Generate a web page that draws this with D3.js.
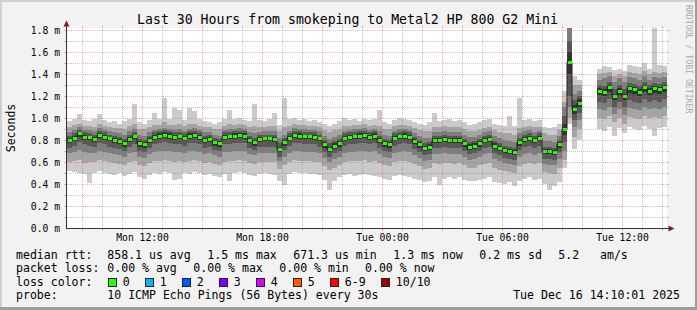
<!DOCTYPE html>
<html><head><meta charset="utf-8">
<script src="https://cdn.jsdelivr.net/npm/d3@7"></script>
<style>
body{margin:0;background:#f2f2f2}
svg{display:block}
text{font-family:"DejaVu Sans Mono",monospace;fill:#000}
</style>
</head><body><svg id="c" width="697" height="310"></svg>
<script>
// ---------- data (ms), one value per 15-minute step, null = no data ----------
const med = [0.80,0.82,0.86,0.83,0.83,0.81,0.845,0.83,0.815,0.80, 0.79,0.77,0.81,0.835,0.77,0.76,0.80,0.83,0.84,0.85, 0.84,0.83,0.835,0.82,0.84,0.845,0.83,0.80,0.81,0.78, 0.77,0.83,0.835,0.84,0.845,0.84,0.80,0.78,0.81,0.815, 0.815,0.81,0.72,0.78,0.82,0.845,0.84,0.835,0.835,0.83, 0.815,0.76,0.72,0.75,0.77,0.82,0.83,0.835,0.84,0.845, 0.83,0.84,0.80,0.77,0.76,0.82,0.835,0.84,0.83,0.79, 0.76,0.73,0.74,0.80,0.80,0.81,0.80,0.80,0.80,0.77, 0.74,0.75,0.77,0.80,0.81,0.75,0.73,0.71,0.70,0.69, 0.78,0.81,0.82,0.80,0.82,0.70,0.70,0.69,0.76,
  0.90,1.51,1.08,1.14, null,null,null,
  1.25,1.24,1.28,1.20,1.25,1.20,1.27,1.26,1.24,1.28,1.25,1.27,1.26,1.28];
const p1 = [0.52,0.51,0.50,0.49,0.41,0.50,0.52,0.50,0.49,0.48, 0.50,0.47,0.49,0.51,0.46,0.45,0.48,0.50,0.49,0.51, 0.50,0.44,0.45,0.50,0.49,0.51,0.50,0.48,0.49,0.47, 0.46,0.49,0.43,0.50,0.51,0.50,0.48,0.47,0.49,0.50, 0.49,0.48,0.43,0.39,0.49,0.51,0.50,0.50,0.49,0.49, 0.48,0.44,0.35,0.43,0.46,0.48,0.49,0.47,0.48,0.49, 0.48,0.47,0.46,0.45,0.44,0.47,0.48,0.47,0.46,0.45, 0.44,0.42,0.43,0.46,0.39,0.45,0.46,0.45,0.46,0.44, 0.43,0.43,0.44,0.45,0.46,0.42,0.41,0.40,0.42,0.38, 0.43,0.45,0.46,0.44,0.45,0.40,0.35,0.38,0.42,
  0.55,0.95,0.72,0.80, null,null,null,
  0.90,0.88,0.92,0.84,0.91,0.86,0.92,0.90,0.89,0.93,0.90,0.84,0.91,0.92];
const p2 = [0.60,0.61,0.62,0.59,0.60,0.60,0.62,0.61,0.60,0.59, 0.58,0.57,0.60,0.61,0.57,0.56,0.59,0.61,0.61,0.62, 0.61,0.60,0.61,0.60,0.61,0.62,0.61,0.59,0.60,0.58, 0.57,0.60,0.61,0.61,0.62,0.61,0.59,0.58,0.60,0.60, 0.60,0.60,0.54,0.57,0.60,0.62,0.61,0.61,0.61,0.60, 0.60,0.56,0.53,0.55,0.57,0.60,0.61,0.61,0.61,0.62, 0.60,0.61,0.59,0.57,0.56,0.60,0.61,0.61,0.60,0.58, 0.56,0.54,0.55,0.59,0.58,0.59,0.59,0.58,0.59,0.57, 0.55,0.55,0.57,0.58,0.59,0.55,0.53,0.52,0.51,0.50, 0.56,0.58,0.59,0.58,0.59,0.51,0.50,0.49,0.55,
  0.62,1.00,0.83,0.90, null,null,null,
  1.00,0.99,1.02,0.96,1.00,0.95,1.01,1.00,0.99,1.02,1.00,1.01,1.00,1.02];
const p3 = [0.68,0.69,0.71,0.69,0.68,0.68,0.70,0.69,0.68,0.67, 0.66,0.65,0.68,0.69,0.65,0.64,0.67,0.69,0.70,0.70, 0.70,0.69,0.69,0.68,0.70,0.70,0.69,0.67,0.68,0.66, 0.65,0.69,0.69,0.70,0.70,0.70,0.67,0.66,0.68,0.68, 0.68,0.68,0.61,0.65,0.68,0.70,0.70,0.69,0.69,0.69, 0.68,0.64,0.60,0.63,0.65,0.68,0.69,0.69,0.70,0.70, 0.69,0.70,0.67,0.65,0.64,0.68,0.69,0.70,0.69,0.66, 0.64,0.61,0.62,0.67,0.67,0.68,0.67,0.67,0.67,0.65, 0.62,0.63,0.65,0.67,0.68,0.63,0.61,0.59,0.58,0.57, 0.65,0.67,0.68,0.66,0.68,0.58,0.57,0.57,0.63,
  0.70,1.10,0.92,0.98, null,null,null,
  1.08,1.07,1.10,1.04,1.08,1.03,1.09,1.08,1.07,1.10,1.08,1.09,1.08,1.10];
const p4 = [0.73,0.75,0.78,0.76,0.75,0.74,0.77,0.76,0.74,0.73, 0.72,0.70,0.74,0.76,0.70,0.69,0.73,0.76,0.77,0.78, 0.77,0.76,0.76,0.75,0.77,0.77,0.76,0.73,0.74,0.71, 0.70,0.76,0.76,0.77,0.77,0.77,0.73,0.71,0.74,0.74, 0.74,0.74,0.65,0.71,0.75,0.77,0.77,0.76,0.76,0.76, 0.74,0.69,0.65,0.68,0.70,0.75,0.76,0.76,0.77,0.77, 0.76,0.77,0.73,0.70,0.69,0.75,0.76,0.77,0.76,0.72, 0.69,0.66,0.67,0.73,0.73,0.74,0.73,0.73,0.73,0.70, 0.67,0.68,0.70,0.73,0.74,0.68,0.66,0.64,0.63,0.62, 0.71,0.74,0.75,0.73,0.75,0.63,0.63,0.62,0.69,
  0.78,1.20,0.98,1.05, null,null,null,
  1.15,1.14,1.17,1.10,1.15,1.10,1.16,1.15,1.14,1.17,1.15,1.16,1.15,1.17];
const p5 = [0.77,0.79,0.83,0.80,0.80,0.78,0.82,0.80,0.79,0.77, 0.76,0.74,0.78,0.81,0.74,0.73,0.77,0.80,0.81,0.82, 0.81,0.80,0.81,0.79,0.81,0.82,0.80,0.77,0.78,0.75, 0.74,0.80,0.81,0.81,0.82,0.81,0.77,0.75,0.78,0.79, 0.79,0.78,0.69,0.75,0.79,0.82,0.81,0.81,0.81,0.80, 0.79,0.73,0.69,0.72,0.74,0.79,0.80,0.81,0.81,0.82, 0.80,0.81,0.77,0.74,0.73,0.79,0.81,0.81,0.80,0.76, 0.73,0.70,0.71,0.77,0.77,0.78,0.77,0.77,0.77,0.74, 0.71,0.72,0.74,0.77,0.78,0.72,0.70,0.68,0.67,0.66, 0.75,0.78,0.79,0.77,0.79,0.67,0.67,0.66,0.73,
  0.85,1.40,1.04,1.10, null,null,null,
  1.21,1.20,1.24,1.16,1.21,1.16,1.23,1.22,1.20,1.24,1.21,1.23,1.22,1.24];
const p6 = [0.82,0.84,0.87,0.85,0.84,0.83,0.86,0.85,0.83,0.82, 0.81,0.79,0.83,0.85,0.79,0.78,0.82,0.85,0.86,0.87, 0.86,0.85,0.85,0.84,0.86,0.86,0.85,0.82,0.83,0.80, 0.79,0.85,0.85,0.86,0.86,0.86,0.82,0.80,0.83,0.83, 0.83,0.83,0.74,0.80,0.84,0.86,0.86,0.85,0.85,0.85, 0.83,0.78,0.74,0.77,0.79,0.84,0.85,0.85,0.86,0.86, 0.85,0.86,0.82,0.79,0.78,0.84,0.85,0.86,0.85,0.81, 0.78,0.75,0.76,0.82,0.82,0.83,0.82,0.82,0.82,0.79, 0.76,0.77,0.79,0.82,0.83,0.77,0.75,0.73,0.72,0.71, 0.80,0.83,0.84,0.82,0.84,0.72,0.72,0.71,0.78,
  0.95,1.60,1.12,1.17, null,null,null,
  1.27,1.26,1.30,1.22,1.27,1.22,1.29,1.28,1.26,1.30,1.27,1.29,1.28,1.30];
const p7 = [0.84,0.86,0.89,0.87,0.86,0.85,0.88,0.87,0.85,0.84, 0.83,0.81,0.85,0.87,0.81,0.80,0.84,0.87,0.88,0.89, 0.88,0.87,0.87,0.86,0.88,0.88,0.87,0.84,0.85,0.82, 0.81,0.87,0.87,0.88,0.88,0.88,0.84,0.82,0.85,0.85, 0.85,0.85,0.77,0.82,0.86,0.88,0.88,0.87,0.87,0.87, 0.85,0.80,0.77,0.79,0.81,0.86,0.87,0.87,0.88,0.88, 0.87,0.88,0.84,0.81,0.80,0.86,0.87,0.88,0.87,0.83, 0.80,0.77,0.78,0.84,0.84,0.85,0.84,0.84,0.84,0.81, 0.78,0.79,0.81,0.84,0.85,0.79,0.77,0.75,0.74,0.73, 0.82,0.85,0.86,0.84,0.86,0.74,0.74,0.73,0.80,
  1.02,1.70,1.16,1.20, null,null,null,
  1.30,1.29,1.33,1.26,1.30,1.26,1.32,1.31,1.29,1.33,1.30,1.32,1.31,1.33];
const p8 = [0.87,0.89,0.92,0.89,0.89,0.88,0.91,0.89,0.88,0.87, 0.86,0.85,0.88,0.90,0.85,0.84,0.87,0.89,0.90,0.91, 0.90,0.89,0.90,0.88,0.90,0.91,0.89,0.87,0.87,0.85, 0.84,0.89,0.90,0.90,0.91,0.90,0.87,0.86,0.87,0.88, 0.88,0.88,0.82,0.85,0.88,0.91,0.90,0.90,0.89,0.89, 0.88,0.84,0.81,0.83,0.85,0.88,0.89,0.90,0.90,0.91, 0.89,0.90,0.88,0.85,0.84,0.88,0.90,0.90,0.89,0.86, 0.84,0.82,0.82,0.87,0.87,0.88,0.87,0.87,0.87,0.85, 0.83,0.83,0.85,0.87,0.88,0.84,0.82,0.80,0.79,0.78, 0.86,0.88,0.89,0.87,0.88,0.79,0.79,0.78,0.84,
  1.10,1.85,1.22,1.25, null,null,null,
  1.35,1.36,1.38,1.33,1.36,1.33,1.37,1.36,1.35,1.38,1.35,1.37,1.36,1.37];
const p9 = [0.92,0.94,0.95,0.93,0.93,0.92,0.95,0.93,0.92,0.91, 0.91,0.90,0.93,0.95,0.90,0.90,0.92,0.94,0.94,0.96, 0.94,0.94,0.95,0.93,0.95,0.95,0.93,0.92,0.92,0.90, 0.90,0.93,0.95,0.94,0.95,0.94,0.92,0.93,0.92,0.92, 0.93,0.93,0.88,0.92,0.93,0.95,0.94,0.94,0.93,0.93, 0.92,0.89,0.87,0.89,0.90,0.93,0.93,0.94,0.94,0.95, 0.93,0.94,0.93,0.90,0.90,0.93,0.94,0.94,0.93,0.91, 0.89,0.88,0.88,0.92,0.92,0.93,0.92,0.92,0.92,0.90, 0.88,0.88,0.89,0.91,0.92,0.89,0.87,0.86,0.86,0.85, 0.91,0.92,0.93,0.92,0.92,0.86,0.85,0.85,0.89,
  1.15,1.95,1.30,1.30, null,null,null,
  1.40,1.41,1.42,1.38,1.40,1.38,1.42,1.41,1.40,1.43,1.40,1.42,1.41,1.42];
const p10 = [0.97,0.99,1.04,0.98,0.97,0.99,1.04,0.98,0.96,0.97, 0.95,0.97,0.99,1.13,0.96,0.95,0.98,1.05,0.99,1.18, 0.99,1.09,1.07,0.98,1.09,1.06,0.99,0.97,0.96,0.95, 0.96,0.99,1.07,0.99,1.00,0.98,0.97,1.13,0.98,0.97, 0.99,1.05,0.94,1.18,0.99,1.00,0.98,0.99,0.97,0.98, 0.96,0.95,0.93,0.95,0.97,1.00,0.98,0.99,0.97,0.99, 0.98,0.99,1.07,0.96,0.95,0.98,1.00,0.99,0.98,0.96, 0.95,0.94,0.96,1.05,0.97,0.98,0.99,0.97,0.98,0.96, 0.94,0.95,0.96,0.98,0.99,0.95,0.94,0.93,1.02,0.93, 1.18,0.98,0.99,0.97,0.98,0.92,0.91,0.92,0.95,
  1.25,2.20,1.38,1.35, null,null,null,
  1.45,1.47,1.46,1.44,1.45,1.43,1.48,1.47,1.46,1.50,1.45,1.85,1.48,1.47];

const yTicks = [0,0.2,0.4,0.6,0.8,1.0,1.2,1.4,1.6,1.8];
const lossLabels = ["0","1","2","3","4","5","6-9","10/10"];
const lossColors = ["#26ff00","#00b8ff","#0059ff","#7e00ff","#dd00ff","#ff5e00","#ff0000","#a10000"];
const titleText = "Last 30 Hours from smokeping to Metal2 HP 800 G2 Mini";
const statRow1 = ["median rtt:","858.1 us avg","1.5 ms max","671.3 us min","1.3 ms now","0.2 ms sd","5.2","am/s"];
const statRow2 = ["packet loss:","0.00 % avg","0.00 % max","0.00 % min","0.00 % now"];
const probeText = ["probe:","10 ICMP Echo Pings (56 Bytes) every 30s","Tue Dec 16 14:10:01 2025"];

// ---------- layout ----------
const W=697,H=310, X0=67, X1=667, Y0=228, YT=28;
const svg=d3.select("#c");
const t0=new Date(Date.UTC(2025,11,15,8,15));
const t1=new Date(Date.UTC(2025,11,16,14,15));
const STEP=15*60*1000;
const x=d3.scaleUtc().domain([t0,t1]).range([X0,X1]);
const y=d3.scaleLinear().domain([0,1.8]).range([Y0,30]);
const times=med.map((_,i)=>new Date(+t0+i*STEP));
const tEnd=i=>new Date(+t0+(i+1)*STEP);

// background + frame
svg.append("rect").attr("width",W).attr("height",H).attr("fill","#f2f2f2");
svg.append("rect").attr("x",0).attr("y",0).attr("width",W).attr("height",2).attr("fill","#cfcfcf");
svg.append("rect").attr("x",0).attr("y",0).attr("width",2).attr("height",H).attr("fill","#cfcfcf");
svg.append("rect").attr("x",0).attr("y",H-3).attr("width",W).attr("height",3).attr("fill","#9e9e9e");
svg.append("rect").attr("x",W-2).attr("y",0).attr("width",2).attr("height",H).attr("fill","#9e9e9e");

// canvas
svg.append("rect").attr("x",X0).attr("y",YT).attr("width",X1-X0).attr("height",Y0-YT).attr("fill","#fff");
svg.append("clipPath").attr("id","pc").append("rect").attr("x",X0).attr("y",YT).attr("width",X1-X0).attr("height",Y0-YT);

const plot=svg.append("g").attr("clip-path","url(#pc)");
const P=[p1,p2,p3,p4,p5,p6,p7,p8,p9,p10];
const smokeCols=["#cacaca","#a4a4a4","#7e7e7e","#585858","#323232"];
const idx=d3.range(med.length).filter(i=>med[i]!=null);
smokeCols.forEach((c,k)=>{
  const lo=P[k], hi=P[9-k];
  plot.append("g").selectAll("rect").data(idx).join("rect")
    .attr("x",i=>x(times[i])).attr("width",i=>x(tEnd(i))-x(times[i]))
    .attr("y",i=>y(hi[i])).attr("height",i=>y(lo[i])-y(hi[i]))
    .attr("fill",c).attr("shape-rendering","crispEdges");
});
// median dark step line
const pts=[];
med.forEach((v,i)=>{pts.push({t:times[i],v});pts.push({t:tEnd(i),v});});
plot.append("path").datum(pts)
  .attr("d",d3.line().defined(d=>d.v!=null).x(d=>x(d.t)).y(d=>Math.round(y(d.v))+0.5))
  .attr("fill","none").attr("stroke","#202020").attr("stroke-width",1);
// loss-coloured median
plot.append("g").selectAll("rect").data(idx).join("rect")
  .attr("x",i=>x(times[i])+0.5).attr("width",i=>x(tEnd(i))-x(times[i])-1)
  .attr("y",i=>Math.round(y(med[i]))-1).attr("height",3)
  .attr("fill",lossColors[0]).attr("shape-rendering","crispEdges");

// grid (drawn over data like rrdtool)
const grid=svg.append("g");
const MAJ="rgba(255,60,60,0.42)", MIN="rgba(120,120,120,0.42)";
d3.range(1,19).forEach(k=>{
  const v=k/10, yy=Math.round(y(v))+0.5, major=(k%2===0);
  const col=major?MAJ:MIN;
  grid.append("line").attr("x1",X0).attr("x2",X1).attr("y1",yy).attr("y2",yy)
    .attr("stroke",col).attr("stroke-dasharray","1,1");
  grid.append("line").attr("x1",X0-3).attr("x2",X0).attr("y1",yy).attr("y2",yy).attr("stroke",col);
  grid.append("line").attr("x1",X1).attr("x2",X1+2).attr("y1",yy).attr("y2",yy).attr("stroke",col);
});
d3.utcHour.range(t0,t1).forEach(h=>{
  const xx=Math.round(x(h))+0.5, major=(h.getUTCHours()%3===0);
  const col=major?MAJ:MIN;
  grid.append("line").attr("x1",xx).attr("x2",xx).attr("y1",YT).attr("y2",Y0)
    .attr("stroke",col).attr("stroke-dasharray","1,1");
  grid.append("line").attr("x1",xx).attr("x2",xx).attr("y1",Y0).attr("y2",Y0+3).attr("stroke",col);
  grid.append("line").attr("x1",xx).attr("x2",xx).attr("y1",YT-2).attr("y2",YT).attr("stroke",col);
});

// axes
const AX="#333";
svg.append("line").attr("x1",X0-0.5).attr("x2",X0-0.5).attr("y1",Y0+1).attr("y2",24).attr("stroke",AX);
svg.append("line").attr("x1",X0-1).attr("x2",669).attr("y1",Y0+0.5).attr("y2",Y0+0.5).attr("stroke",AX);
svg.append("path").attr("d",`M${X0-3.5},26.5L${X0-0.5},20.5L${X0+2.5},26.5Z`).attr("fill","#8b1a1a");
svg.append("path").attr("d",`M668.5,225.5L674.5,228.5L668.5,231.5Z`).attr("fill","#8b1a1a");

// y labels
svg.append("g").selectAll("text").data(yTicks).join("text")
  .attr("x",60).attr("y",d=>Math.round(y(d))+4).attr("text-anchor","end")
  .style("font-size","9.7px").text(d=>d.toFixed(1)+" m");
// x labels
svg.append("g").selectAll("text").data(d3.utcHour.every(6).range(t0,t1)).join("text")
  .attr("x",d=>Math.round(x(d))+0.5).attr("y",241).attr("text-anchor","middle")
  .style("font-size","9.7px").text(d3.utcFormat("%a %H:%M"));

// title & side texts
svg.append("text").attr("x",347.5).attr("y",24).attr("text-anchor","middle").style("font-size","13.2px").text(titleText);
svg.append("text").attr("transform","translate(14.5,128) rotate(-90)").attr("text-anchor","middle")
  .style("font-size","11.5px").text("Seconds");
svg.append("text").attr("transform","translate(685.5,5) rotate(90)")
  .style("font-size","8.2px").style("fill","#aaa").text("RRDTOOL / TOBI OETIKER");

// legend
const LF="11.55px";
const r1x=[16,107.3,207.3,293.3,393.3,479.3,558.3,600];
statRow1.forEach((s,i)=>svg.append("text").attr("x",r1x[i]).attr("y",258.5).style("font-size",LF).text(s));
const r2x=[16,107.3,193.3,279.3,365];
statRow2.forEach((s,i)=>svg.append("text").attr("x",r2x[i]).attr("y",272).style("font-size",LF).text(s));
svg.append("text").attr("x",16).attr("y",285.7).style("font-size",LF).text("loss color:");
const bx=[108.5,145.5,182.5,219.5,256.5,293.5,330.5,381.5];
lossLabels.forEach((l,i)=>{
  svg.append("rect").attr("x",bx[i]).attr("y",278.5).attr("width",8).attr("height",8)
    .attr("fill",lossColors[i]).attr("stroke","#222").attr("stroke-width",1);
  svg.append("text").attr("x",bx[i]+14.3).attr("y",285.7).style("font-size",LF).text(l);
});
svg.append("text").attr("x",16).attr("y",299.2).style("font-size",LF).text(probeText[0]);
svg.append("text").attr("x",107.3).attr("y",299.2).style("font-size",LF).text(probeText[1]);
svg.append("text").attr("x",680).attr("y",299.2).attr("text-anchor","end").style("font-size",LF).text(probeText[2]);
</script>
</body></html>
